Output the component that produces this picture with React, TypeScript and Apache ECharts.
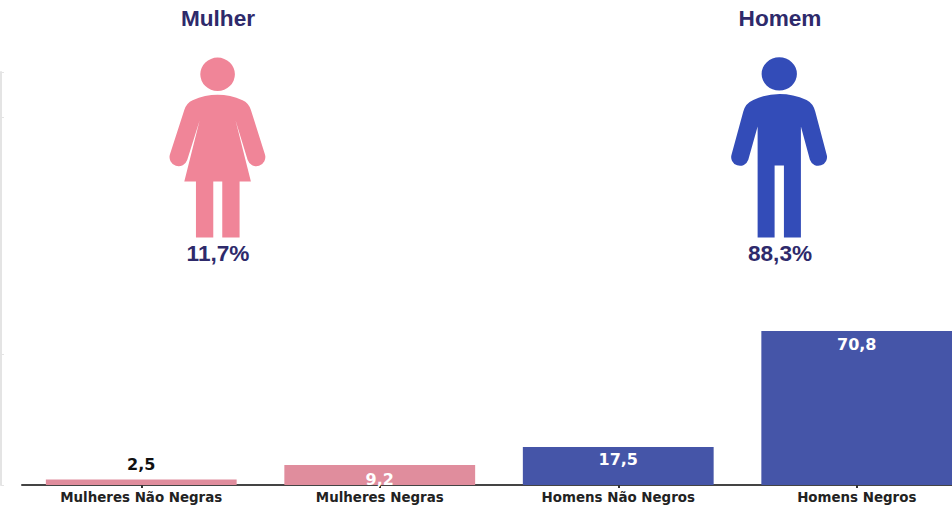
import React, { useEffect, useRef } from "react";
import * as echarts from "echarts";

const categories = ["Mulheres Não Negras", "Mulheres Negras", "Homens Não Negros", "Homens Negros"];
const values = [2.5, 9.2, 17.5, 70.8];
const barColors = ["#e08d9d", "#e08d9d", "#4555a8", "#4555a8"];
const labelColors = ["#111111", "#ffffff", "#ffffff", "#ffffff"];
const labelPositions = ["top", "insideTop", "insideTop", "insideTop"];
const labelDistances = [7, 6, 5, 5];
const yTickValues = [0, 60, 169, 190];
const groupTitles = ["Mulher", "Homem"];
const groupShares = ["11,7%", "88,3%"];

const womanPath =
  "M151,223 A52,50 0 1 1 255,223 A52,50 0 1 1 151,223 Z " +
  "M128,301 Q203,268 278,301 Q296,309 303,330 L345,463 A27,27 0 0 1 293,480 L257,362 L303,545 L269,545 L269,713 L217,713 L217,545 L190,545 L190,713 L138,713 L138,545 L103,545 L149,362 L112,480 A27,27 0 0 1 60,463 L103,330 Q110,309 128,301 Z";
const manPath =
  "M155,222 A53,50 0 1 1 261,222 A53,50 0 1 1 155,222 Z " +
  "M130,300 Q208,264 290,300 Q310,310 316,335 L350,463 A26,26 0 0 1 300,480 L273,380 L273,713 L222,713 L222,497 L194,497 L194,713 L143,713 L143,380 L115,480 A26,26 0 0 1 65,463 L100,335 Q106,310 130,300 Z";

echarts.graphic.registerShape("womanIcon", echarts.graphic.extendPath(womanPath, {}));
echarts.graphic.registerShape("manIcon", echarts.graphic.extendPath(manPath, {}));

const headingFont = "'Liberation Sans', Arial, sans-serif";
const headingColor = "#2e2a6b";

export default function App() {
  const ref = useRef<HTMLDivElement>(null);

  useEffect(() => {
    document.body.style.margin = "0";
    document.body.style.background = "#ffffff";
    const chart = echarts.init(ref.current!, null, { renderer: "svg" });
    const headingStyle = (text: string, x: number, y: number) => ({
      type: "text",
      x,
      y,
      style: {
        text,
        fill: headingColor,
        font: `bold 22.6px ${headingFont}`,
        align: "center",
        verticalAlign: "middle",
      },
    });
    chart.setOption({
      animation: false,
      backgroundColor: "#ffffff",
      grid: { left: 22, width: 954, top: 72, height: 413, containLabel: false, outerBoundsMode: "none" },
      xAxis: {
        type: "category",
        data: categories,
        axisLine: { show: true, lineStyle: { color: "#444444", width: 2 } },
        axisTick: { show: true, alignWithLabel: true, length: 3, lineStyle: { color: "#333333", width: 2 } },
        axisLabel: {
          interval: 0,
          margin: 6,
          fontFamily: "'DejaVu Sans', sans-serif",
          fontWeight: "bold",
          fontSize: 13.4,
          color: "#222222",
        },
      },
      yAxis: {
        type: "value",
        min: 0,
        max: 190,
        offset: 21,
        splitLine: { show: false },
        axisLine: { show: true, lineStyle: { color: "#e4e4e4", width: 2 } },
        axisTick: {
          show: true,
          inside: true,
          length: 3,
          customValues: yTickValues,
          lineStyle: { color: "#e4e4e4", width: 1 },
        },
        axisLabel: { show: false },
      },
      series: [
        {
          type: "bar",
          barWidth: "80%",
          z: 1,
          data: values.map((value, i) => ({
            value,
            itemStyle: { color: barColors[i] },
            label: {
              show: true,
              position: labelPositions[i],
              distance: labelDistances[i],
              color: labelColors[i],
              fontFamily: "'DejaVu Sans', sans-serif",
              fontWeight: "bold",
              fontSize: 16,
              formatter: String(value).replace(".", ","),
            },
          })),
        },
      ],
      graphic: [
        headingStyle(groupTitles[0], 218, 18),
        headingStyle(groupTitles[1], 780, 18),
        headingStyle(groupShares[0], 218, 253),
        headingStyle(groupShares[1], 780, 253),
        { type: "womanIcon", x: 150, y: 0, scaleX: 1 / 3, scaleY: 1 / 3, style: { fill: "#f08598" } },
        { type: "manIcon", x: 710, y: 0, scaleX: 1 / 3, scaleY: 1 / 3, style: { fill: "#334cb8" } },
      ],
    });
    return () => chart.dispose();
  }, []);

  return <div ref={ref} style={{ position: "fixed", left: 0, top: 0, width: 952, height: 508 }} />;
}
